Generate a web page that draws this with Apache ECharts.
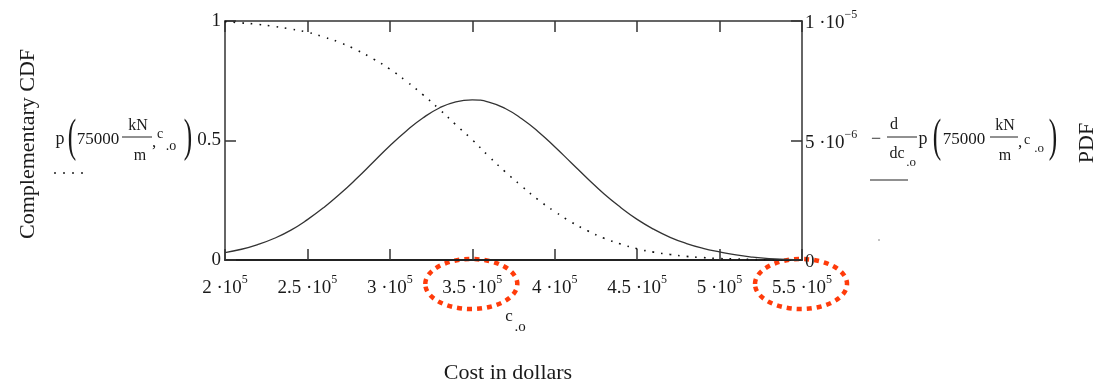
<!DOCTYPE html>
<html>
<head>
<meta charset="utf-8">
<script src="https://cdn.jsdelivr.net/npm/echarts@6/dist/echarts.min.js"></script>
<style>
  html, body { margin: 0; background: #fff; }
  #chart { width: 1103px; height: 385px; }
</style>
</head>
<body>
<div id="chart"></div>
<script>
// cost c.o in dollars
const costs = [
  200000, 210000, 220000, 230000, 240000, 250000, 260000, 270000, 280000, 290000,
  300000, 310000, 320000, 330000, 340000, 350000, 360000, 370000, 380000, 390000,
  400000, 410000, 420000, 430000, 440000, 450000, 460000, 470000, 480000, 490000,
  500000, 510000, 520000, 530000, 540000, 550000
];
// complementary CDF p(75000 kN/m, c.o)  (left axis)
const ccdf = [
  0.997, 0.992, 0.986, 0.977, 0.966, 0.953, 0.933, 0.909, 0.878, 0.841,
  0.799, 0.748, 0.692, 0.631, 0.566, 0.503, 0.434, 0.369, 0.309, 0.252,
  0.203, 0.159, 0.122, 0.091, 0.067, 0.047, 0.033, 0.023, 0.015, 0.010,
  0.006, 0.004, 0.002, 0.001, 0.001, 0.000
];
// PDF -d/dc.o p(...)  (right axis)
const pdf = [
  3.1e-7, 4.5e-7, 6.5e-7, 9.1e-7, 1.25e-6, 1.69e-6, 2.2e-6, 2.78e-6, 3.42e-6, 4.1e-6,
  4.78e-6, 5.4e-6, 5.94e-6, 6.36e-6, 6.62e-6, 6.7e-6, 6.61e-6, 6.34e-6, 5.91e-6, 5.37e-6,
  4.74e-6, 4.07e-6, 3.4e-6, 2.76e-6, 2.2e-6, 1.7e-6, 1.29e-6, 0.95e-6, 0.69e-6, 0.49e-6,
  0.34e-6, 0.21e-6, 0.12e-6, 0.06e-6, 0.03e-6, 0.01e-6
];
// tick labels
const xTickMantissas = ['2', '2.5', '3', '3.5', '4', '4.5', '5', '5.5'];
const xTickExponent = '5';
const rightTickLabels = [['0', ''], ['5', '\u22126'], ['1', '\u22125']];
// tick labels circled in red
const ringValues = [350000, 550000];

const FONT = '"Liberation Serif", "DejaVu Serif", serif';
const INK = '#1a1a1a';

const chart = echarts.init(document.getElementById('chart'));

const powRich = {
  n: { fontFamily: FONT, fontSize: 19, color: INK, lineHeight: 24, verticalAlign: 'bottom' },
  s: { fontFamily: FONT, fontSize: 12, color: INK, lineHeight: 14, verticalAlign: 'top' }
};

const axisLine = { show: true, onZero: false, lineStyle: { color: '#333', width: 1.5 } };
const innerTick = { show: true, inside: true, length: 11, lineStyle: { color: '#333', width: 1.5 } };

function txt(text, x, y, size, opts) {
  return Object.assign({
    type: 'text', x: x, y: y, silent: true,
    style: {
      text: text, fill: INK, font: size + 'px ' + FONT,
      align: 'center', verticalAlign: 'middle',
      textAlign: 'center', textVerticalAlign: 'middle'
    }
  }, opts || {});
}
function hline(x1, x2, y, dash, w) {
  return {
    type: 'line', silent: true,
    shape: { x1: x1, y1: y, x2: x2, y2: y },
    style: { stroke: '#222', lineWidth: w || 1, lineDash: dash || null }
  };
}
function paren(ch, x, y) {
  return txt(ch, x, y, 46, { scaleX: 0.55 });
}

// left formula: p(75000 kN/m, c.o)
const leftFormula = [
  txt('p', 60, 139, 18),
  paren('(', 72, 139),
  txt('75000', 98, 140, 17),
  txt('kN', 138, 126, 16),
  hline(122, 152, 137),
  txt('m', 140, 156, 16),
  txt(',', 154, 143, 17),
  txt('c', 160, 134, 14),
  txt('.o', 171, 146, 14),
  paren(')', 188, 139),
  hline(54, 84, 173, [2, 7], 1.5)
];

// right formula: -d/dc.o p(75000 kN/m, c.o)
const rightFormula = [
  txt('\u2212', 876, 139, 18),
  txt('d', 894, 125, 16),
  hline(887, 917, 137),
  txt('dc', 897, 154, 16),
  txt('.o', 911, 163, 13),
  txt('p', 923, 139, 18),
  paren('(', 937, 139),
  txt('75000', 964, 140, 17),
  txt('kN', 1005, 126, 16),
  hline(990, 1018, 137),
  txt('m', 1005, 156, 16),
  txt(',', 1020, 143, 17),
  txt('c', 1027, 140, 14),
  txt('.o', 1039, 149, 13),
  paren(')', 1053, 139),
  hline(870, 908, 180, null, 1.2),
  { type: 'circle', silent: true, shape: { cx: 879, cy: 240, r: 0.8 }, style: { fill: '#777' } }
];

chart.setOption({
  animation: false,
  backgroundColor: '#fff',
  grid: { left: 225, right: 301, top: 21, bottom: 125, containLabel: false },
  xAxis: [
    {
      type: 'value', position: 'bottom', min: 200000, max: 550000, interval: 50000,
      axisLine: { show: true, onZero: false, lineStyle: { color: '#222', width: 2 } },
      axisTick: innerTick,
      splitLine: { show: false },
      axisLabel: {
        margin: 14,
        formatter: function (v) {
          const i = Math.round((v - 200000) / 50000);
          return '{n|' + xTickMantissas[i] + ' \u00b710}{s|' + xTickExponent + '}';
        },
        rich: powRich
      }
    },
    {
      type: 'value', position: 'top', min: 200000, max: 550000, interval: 50000,
      axisLine: axisLine, axisTick: innerTick,
      axisLabel: { show: false }, splitLine: { show: false }
    }
  ],
  yAxis: [
    {
      type: 'value', position: 'left', min: 0, max: 1, interval: 0.5,
      axisLine: axisLine, axisTick: innerTick, splitLine: { show: false },
      axisLabel: { margin: 4, fontFamily: FONT, fontSize: 19, color: INK }
    },
    {
      type: 'value', position: 'right', min: 0, max: 1e-5, interval: 5e-6,
      axisLine: axisLine, axisTick: innerTick, splitLine: { show: false },
      axisLabel: {
        margin: 3,
        formatter: function (v) {
          const i = Math.round(v / 5e-6);
          const t = rightTickLabels[i];
          return t[1] ? '{n|' + t[0] + ' \u00b710}{s|' + t[1] + '}' : '{n|' + t[0] + '}';
        },
        rich: powRich
      }
    }
  ],
  series: [
    {
      name: 'Complementary CDF', type: 'line', xAxisIndex: 0, yAxisIndex: 0,
      data: costs.map((c, i) => [c, ccdf[i]]),
      smooth: true, showSymbol: false,
      lineStyle: { color: '#111', width: 1.6, type: [1.6, 7] }
    },
    {
      name: 'PDF', type: 'line', xAxisIndex: 0, yAxisIndex: 1,
      data: costs.map((c, i) => [c, pdf[i]]),
      smooth: true, showSymbol: false,
      lineStyle: { color: '#333', width: 1.3 }
    }
  ]
});

// red dotted rings, placed on the axis values they highlight
const rings = ringValues.map(function (v) {
  const p = chart.convertToPixel({ xAxisIndex: 0 }, v);
  return {
    type: 'ellipse', silent: true,
    shape: { cx: p - 1, cy: 284, rx: 46, ry: 25 },
    style: { fill: 'none', stroke: '#ff3b0a', lineWidth: 4.5, lineDash: [5, 5] }
  };
});

chart.setOption({
  graphic: [
    txt('Complementary CDF', 28, 144, 22, { rotation: Math.PI / 2 }),
    txt('PDF', 1087, 143, 22, { rotation: Math.PI / 2 }),
    txt('Cost in dollars', 508, 373, 22),
    txt('c', 509, 317, 17),
    txt('.o', 520, 327, 15)
  ].concat(leftFormula, rightFormula, rings)
});
</script>
</body>
</html>
